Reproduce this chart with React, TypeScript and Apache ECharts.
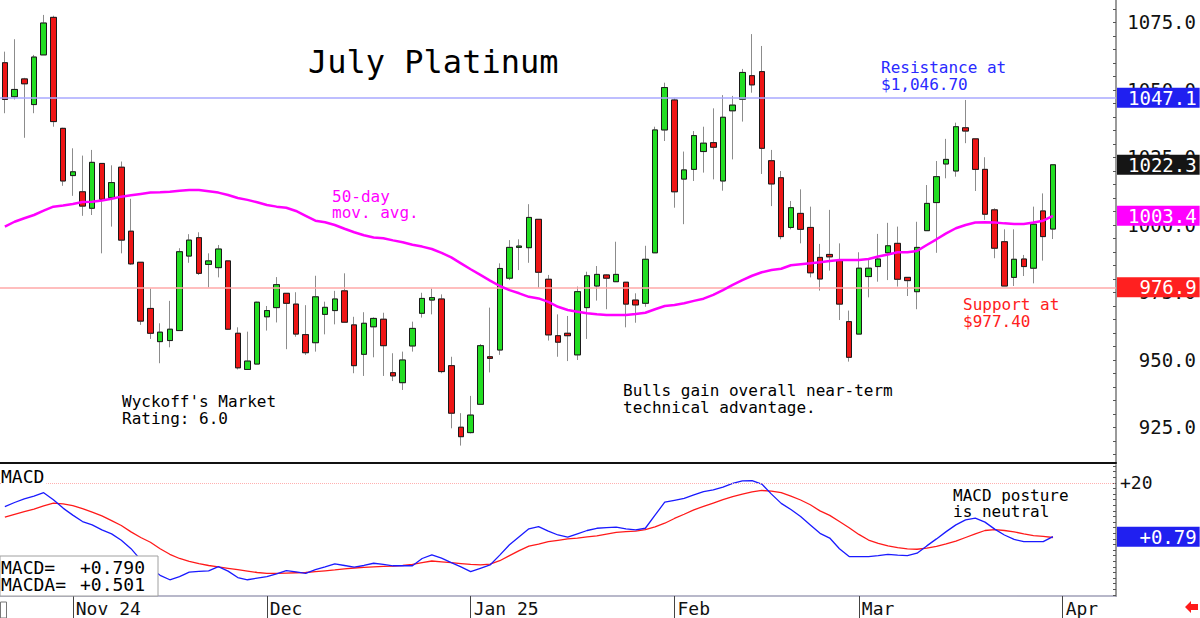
import React, { useEffect, useRef } from 'react';
import * as echarts from 'echarts';

// ---- Data (daily candles, late Oct 2024 -> end Mar 2025) ----
const opens = [
  1060.1, 1047.5, 1054.1, 1044.6, 1063.0, 1076.9, 1035.8, 1018.3, 1012.3, 1006.2,
  1022.8, 1010.2, 1021.4, 997.7, 986.2, 969.1, 956.8, 957.2, 960.9, 988.5,
  995.3, 985.4, 984.2, 986.7, 959.9, 946.5, 948.5, 966.0, 969.4, 974.7,
  970.7, 959.4, 956.4, 966.9, 968.3, 975.6, 963.0, 952.1, 962.3, 965.1,
  945.3, 941.6, 955.2, 967.3, 972.2, 972.6, 947.9, 925.1, 923.1, 933.6,
  951.2, 953.7, 980.3, 991.7, 991.6, 1002.1, 979.9, 959.0, 959.9, 951.9,
  969.4, 977.4, 981.5, 979.0, 978.8, 972.2, 971.0, 989.7, 1035.2, 1046.3,
  1017.0, 1020.6, 1027.2, 1030.5, 1016.3, 1042.3, 1046.6, 1055.3, 1056.8, 1023.8,
  1017.5, 999.1, 1004.3, 999.1, 988.0, 989.1, 986.8, 964.2, 959.6, 980.9,
  984.6, 989.7, 993.2, 980.6, 975.3, 997.9, 1008.3, 1022.6, 1020.0, 1036.0,
  1031.9, 1020.6, 1005.6, 993.8, 980.6, 987.4, 984.0, 1005.2, 998.5,
];
const closes = [
  1046.5, 1050.2, 1052.3, 1062.2, 1074.8, 1038.3, 1016.3, 1019.7, 1007.0, 1023.2,
  1009.5, 1015.7, 994.4, 985.6, 964.4, 959.9, 960.3, 961.4, 990.1, 994.4,
  982.1, 986.7, 991.1, 961.4, 947.1, 949.6, 971.4, 968.3, 977.9, 971.0,
  959.6, 952.7, 973.4, 969.5, 972.6, 964.0, 947.9, 963.6, 965.4, 955.3,
  944.1, 950.0, 961.7, 972.8, 973.1, 945.7, 930.3, 921.6, 929.6, 955.3,
  950.6, 983.9, 991.7, 992.2, 1002.8, 982.5, 959.3, 956.6, 959.0, 975.3,
  981.2, 981.7, 980.3, 981.7, 970.7, 970.4, 987.3, 1035.2, 1050.9, 1012.3,
  1020.4, 1033.1, 1030.3, 1028.8, 1039.9, 1044.4, 1056.5, 1051.9, 1028.4, 1015.2,
  995.7, 1006.4, 998.4, 982.3, 980.0, 988.2, 970.7, 951.0, 984.0, 984.0,
  987.4, 992.3, 979.9, 979.4, 991.7, 1008.0, 1017.9, 1024.3, 1036.4, 1034.8,
  1020.6, 1004.0, 991.4, 977.4, 987.3, 984.6, 1000.3, 995.7, 1022.3,
];
const lows = [
  1041.4, 1046.5, 1032.3, 1041.4, 1063.0, 1036.4, 1014.5, 1010.8, 1003.4, 1003.7,
  989.5, 999.4, 989.5, 985.2, 963.0, 957.8, 948.8, 954.7, 960.9, 986.0,
  981.5, 976.9, 980.6, 961.1, 946.5, 946.5, 948.5, 960.9, 963.9, 954.0,
  958.6, 951.9, 953.1, 959.5, 963.2, 964.0, 945.1, 944.1, 951.0, 944.1,
  942.2, 938.9, 953.1, 965.7, 966.9, 945.1, 924.7, 918.3, 922.8, 933.6,
  945.4, 951.9, 979.6, 983.3, 986.0, 976.8, 957.2, 951.2, 949.6, 950.0,
  957.8, 972.0, 968.8, 979.0, 962.1, 963.8, 969.7, 989.7, 1031.1, 1006.4,
  1000.3, 1016.3, 1019.4, 1016.9, 1012.7, 1024.3, 1038.3, 1049.0, 1018.9, 1007.0,
  994.7, 998.4, 993.2, 980.6, 975.7, 983.1, 964.8, 949.4, 959.6, 973.2,
  979.0, 979.6, 977.2, 973.7, 968.8, 997.9, 989.7, 1017.3, 1017.9, 1030.3,
  1012.6, 1001.9, 987.7, 977.4, 977.4, 981.1, 978.4, 986.8, 994.8,
];
const highs = [
  1064.2, 1068.8, 1054.5, 1063.0, 1077.8, 1077.5, 1036.0, 1028.4, 1025.7, 1027.8,
  1022.8, 1022.1, 1023.5, 1009.7, 986.2, 976.5, 963.6, 971.9, 991.4, 996.6,
  997.3, 989.5, 992.6, 986.7, 962.1, 960.5, 971.6, 970.0, 980.7, 974.7,
  975.1, 970.3, 981.2, 971.6, 975.6, 982.1, 966.0, 967.7, 965.8, 967.5,
  952.5, 953.1, 964.2, 974.9, 976.5, 974.3, 951.2, 930.3, 936.7, 955.9,
  969.4, 985.8, 994.4, 994.7, 1007.7, 1002.1, 981.5, 966.9, 966.3, 977.2,
  982.7, 984.8, 981.7, 993.8, 978.8, 974.7, 992.3, 1036.4, 1052.7, 1046.9,
  1027.2, 1034.8, 1036.4, 1043.2, 1048.1, 1047.8, 1057.8, 1070.7, 1066.3, 1027.8,
  1020.0, 1008.9, 1013.2, 1006.8, 993.0, 1005.6, 993.2, 968.3, 989.9, 987.0,
  996.7, 1000.8, 999.4, 980.6, 1001.2, 1014.8, 1023.7, 1031.9, 1037.9, 1046.3,
  1031.9, 1025.1, 1006.2, 998.4, 998.4, 988.9, 1006.8, 1011.7, 1022.3,
];
const ma50 = [
  999.4, 1001.2, 1002.5, 1003.7, 1005.3, 1006.8, 1007.2, 1007.8, 1008.5, 1008.6,
  1009.1, 1009.7, 1010.5, 1011.0, 1011.5, 1012.0, 1012.1, 1012.3, 1012.7, 1013.0,
  1013.0, 1012.5, 1012.0, 1011.1, 1010.0, 1009.3, 1008.4, 1007.4, 1006.8, 1006.4,
  1005.2, 1003.4, 1001.6, 1001.0, 1000.0, 998.6, 997.3, 996.2, 995.4, 995.1,
  994.3, 993.6, 992.7, 992.0, 991.1, 989.7, 988.0, 985.8, 983.6, 981.5,
  979.4, 977.4, 975.9, 974.7, 973.4, 972.8, 971.5, 969.7, 968.5, 967.9,
  967.3, 966.9, 966.7, 966.7, 966.7, 967.0, 967.5, 968.8, 970.0, 970.4,
  971.0, 971.9, 972.7, 974.1, 975.9, 977.8, 979.6, 981.2, 982.5, 983.3,
  983.8, 985.1, 985.5, 985.8, 986.2, 986.7, 987.0, 987.0, 987.0, 987.4,
  988.3, 989.1, 989.9, 989.9, 990.4, 992.6, 994.7, 996.9, 998.8, 1000.0,
  1000.9, 1001.0, 1000.9, 1000.6, 1000.4, 1000.4, 1000.9, 1001.6, 1003.4,
];
const macd = [
  11.5, 13.0, 14.3, 15.3, 16.5, 14.0, 11.0, 8.5, 6.2, 5.0,
  3.2, 1.8, -0.5, -3.5, -7.5, -10.5, -13.0, -14.6, -13.5, -11.9,
  -11.6, -11.4, -9.9, -11.5, -13.8, -14.6, -14.0, -13.5, -12.5, -11.3,
  -11.8, -12.3, -11.0, -10.0, -8.9, -9.5, -10.1, -9.5, -8.7, -9.1,
  -9.6, -9.6, -9.6, -7.0, -5.7, -6.9, -8.5, -10.0, -11.7, -10.5,
  -9.3, -5.8, -2.1, 0.8, 3.6, 4.4, 2.8, 1.4, 0.6, 1.8,
  3.0, 3.8, 4.0, 4.2, 3.6, 3.2, 3.8, 8.5, 13.1, 13.8,
  14.5, 15.7, 16.9, 17.5, 18.5, 19.8, 20.7, 20.8, 19.6, 16.0,
  12.7, 10.5, 8.0, 5.0, 2.0, 0.3, -3.5, -6.3, -6.3, -6.3,
  -6.0, -5.5, -5.8, -6.0, -5.1, -2.5, 0.0, 2.6, 5.0, 6.8,
  7.4, 6.0, 3.5, 1.4, -0.2, -1.0, -1.0, -1.0, 0.79,
];
const macdSignal = [
  7.8, 8.8, 9.7, 10.6, 11.8, 12.8, 12.5, 11.9, 10.8, 9.6,
  8.2, 6.5, 4.8, 2.5, 0.5, -1.2, -3.5, -5.5, -7.0, -8.0,
  -8.8, -9.5, -10.0, -10.5, -11.0, -11.5, -12.0, -12.3, -12.3, -12.2,
  -12.1, -12.0, -11.7, -11.4, -11.1, -10.7, -10.4, -10.2, -10.0, -9.8,
  -9.7, -9.5, -9.1, -8.5, -7.9, -8.2, -8.5, -8.8, -9.1, -9.3,
  -9.0, -7.8, -6.0, -4.2, -2.6, -1.9, -1.0, -0.5, 0.0, 0.3,
  0.7, 1.1, 1.7, 2.3, 2.6, 2.8, 3.3, 4.3, 5.6, 7.3,
  8.8, 10.4, 11.6, 12.8, 14.0, 15.1, 16.0, 16.8, 17.3, 17.1,
  16.5, 15.3, 13.9, 12.2, 10.0, 8.4, 6.2, 4.0, 1.6, -0.4,
  -1.6, -2.5, -3.1, -3.6, -3.7, -3.3, -2.7, -1.8, -0.8, 0.5,
  1.8, 3.0, 3.3, 3.0, 2.5, 1.8, 1.2, 0.9, 0.501,
];

const monthTickIndex = [7, 27, 48, 69, 88, 109];
const monthTickLabel = ['Nov 24', 'Dec', 'Jan 25', 'Feb', 'Mar', 'Apr'];
const priceTickLabels = [925, 950, 975, 1000, 1025, 1050, 1075];
const macdTickLabels = [20];
const resistanceLevel = 1047.1;
const supportLevel = 976.9;
const lastClose = 1022.3;
const lastMA = 1003.4;
const lastMACD = 0.79;
const macdRefLevel = 20;
const CATEGORY_COUNT = 115;

const MONO = '"DejaVu Sans Mono", monospace';

function boxLabel(text: string, bg: string) {
  const padded = text.length < 6 ? ' '.repeat(6 - text.length) + text : text;
  return {
    show: true,
    position: 'end',
    distance: 1,
    formatter: () => padded,
    color: '#ffffff',
    backgroundColor: bg,
    fontFamily: MONO,
    fontSize: 19,
    lineHeight: 20,
    padding: [0, 3, 0, 11],
  };
}

export default function App() {
  const ref = useRef<HTMLDivElement>(null);

  useEffect(() => {
    if (!ref.current) return;
    const chart = echarts.init(ref.current, undefined, { renderer: 'svg' });

    const categories = Array.from({ length: CATEGORY_COUNT }, (_, i) => String(i));
    const fullCandles = opens.map((o, i) => [o, closes[i], lows[i], highs[i]]);
    const bodyCandles = opens.map((o, i) => [o, closes[i], Math.min(o, closes[i]), Math.max(o, closes[i])]);

    const priceMinor: number[] = [];
    for (let v = 915; v <= 1080; v += 5) priceMinor.push(v);
    const macdMinor: number[] = [];
    for (let v = -20; v <= 26; v += 2) macdMinor.push(v);

    const isMonth = (idx: number) => monthTickIndex.indexOf(idx) >= 0;

    const transparentLine = { color: 'rgba(0,0,0,0)', width: 1 };

    const option: any = {
      animation: false,
      backgroundColor: '#ffffff',
      textStyle: { fontFamily: MONO },
      grid: [
        { left: 0, right: 84, top: 0, height: 463 },
        { left: 0, right: 84, top: 465, height: 131 },
      ],
      xAxis: [
        {
          gridIndex: 0,
          type: 'category',
          data: categories,
          boundaryGap: true,
          axisLine: { show: true, onZero: false, lineStyle: { color: '#111', width: 2 } },
          axisTick: { show: false },
          axisLabel: { show: false },
          splitLine: { show: false },
        },
        {
          gridIndex: 1,
          type: 'category',
          data: categories,
          boundaryGap: true,
          position: 'bottom',
          axisLine: { show: true, onZero: false, lineStyle: { color: '#a0a0b8', width: 1.5 } },
          axisTick: {
            show: true,
            alignWithLabel: true,
            interval: (idx: number) => isMonth(idx),
            length: 22,
            lineStyle: { color: '#444', width: 1 },
          },
          axisLabel: {
            show: true,
            interval: (idx: number) => isMonth(idx),
            formatter: (val: string) => {
              const k = monthTickIndex.indexOf(Number(val));
              return k >= 0 ? monthTickLabel[k] : '';
            },
            align: 'left',
            margin: 3,
            padding: [0, 0, 0, 3],
            color: '#111',
            fontFamily: MONO,
            fontSize: 18,
          },
          splitLine: { show: false },
        },
      ],
      yAxis: [
        {
          gridIndex: 0,
          type: 'value',
          position: 'right',
          min: 911.85,
          max: 1083.33,
          axisLine: { show: true, lineStyle: { color: '#9a9a9a', width: 2 } },
          axisTick: { show: true, inside: true, length: 3, customValues: priceMinor, lineStyle: { color: '#555' } },
          axisLabel: {
            show: true,
            customValues: priceTickLabels,
            formatter: (v: number) => v.toFixed(1),
            align: 'right',
            margin: 80,
            color: '#111',
            fontFamily: MONO,
            fontSize: 19,
          },
          splitLine: { show: false },
        },
        {
          gridIndex: 1,
          type: 'value',
          position: 'right',
          min: -20.4,
          max: 26.4,
          axisLine: { show: true, lineStyle: { color: '#9a9a9a', width: 2 } },
          axisTick: { show: true, inside: true, length: 3, customValues: macdMinor, lineStyle: { color: '#555' } },
          axisLabel: {
            show: true,
            customValues: macdTickLabels,
            formatter: (v: number) => (v > 0 ? '+' : '') + v,
            align: 'left',
            margin: 4,
            color: '#111',
            fontFamily: MONO,
            fontSize: 18,
          },
          splitLine: { show: false },
        },
      ],
      series: [
        {
          name: 'wicks',
          type: 'candlestick',
          xAxisIndex: 0,
          yAxisIndex: 0,
          barWidth: 6,
          data: fullCandles,
          itemStyle: {
            color: '#22dd22',
            color0: '#ee1515',
            borderColor: '#8c8c8c',
            borderColor0: '#8c8c8c',
            borderWidth: 1,
          },
          markLine: {
            symbol: ['none', 'none'],
            silent: true,
            animation: false,
            data: [
              { yAxis: resistanceLevel, lineStyle: { color: '#a8a8ff', width: 1.5, type: 'solid' }, label: boxLabel(resistanceLevel.toFixed(1), '#2020f0') },
              { yAxis: supportLevel, lineStyle: { color: '#ffa8a8', width: 1.5, type: 'solid' }, label: boxLabel(supportLevel.toFixed(1), '#ff2020') },
              { yAxis: lastClose, lineStyle: transparentLine, label: boxLabel(lastClose.toFixed(1), '#151515') },
              { yAxis: lastMA, lineStyle: transparentLine, label: boxLabel(lastMA.toFixed(1), '#ff00ff') },
            ],
          },
        },
        {
          name: 'bodies',
          type: 'candlestick',
          xAxisIndex: 0,
          yAxisIndex: 0,
          barWidth: 6,
          data: bodyCandles,
          itemStyle: {
            color: '#22dd22',
            color0: '#ee1515',
            borderColor: '#1a1a1a',
            borderColor0: '#1a1a1a',
            borderWidth: 1,
          },
        },
        {
          name: '50-day MA',
          type: 'line',
          xAxisIndex: 0,
          yAxisIndex: 0,
          data: ma50,
          symbol: 'none',
          lineStyle: { color: '#ff00ff', width: 2.5 },
          z: 5,
        },
        {
          name: 'MACDA',
          type: 'line',
          xAxisIndex: 1,
          yAxisIndex: 1,
          data: macdSignal,
          symbol: 'none',
          lineStyle: { color: '#ff1a1a', width: 1.3 },
        },
        {
          name: 'MACD',
          type: 'line',
          xAxisIndex: 1,
          yAxisIndex: 1,
          data: macd,
          symbol: 'none',
          lineStyle: { color: '#1a1aff', width: 1.3 },
          markLine: {
            symbol: ['none', 'none'],
            silent: true,
            animation: false,
            data: [
              { yAxis: macdRefLevel, lineStyle: { color: '#ffb0b0', width: 1, type: 'dotted' }, label: { show: false } },
              { yAxis: lastMACD, lineStyle: transparentLine, label: boxLabel('+' + lastMACD.toFixed(2), '#2020f0') },
            ],
          },
        },
      ],
      graphic: [
        { type: 'text', x: 308, y: 62, z: 50, style: { text: 'July Platinum', font: `32px ${MONO}`, fill: '#000', verticalAlign: 'middle' } },
        { type: 'text', x: 332, y: 196, z: 50, style: { text: '50-day', font: `16px ${MONO}`, fill: '#ff00ff', verticalAlign: 'middle' } },
        { type: 'text', x: 332, y: 212.5, z: 50, style: { text: 'mov. avg.', font: `16px ${MONO}`, fill: '#ff00ff', verticalAlign: 'middle' } },
        { type: 'text', x: 881, y: 67.5, z: 50, style: { text: 'Resistance at', font: `16px ${MONO}`, fill: '#2a2aff', verticalAlign: 'middle' } },
        { type: 'text', x: 881, y: 84, z: 50, style: { text: '$1,046.70', font: `16px ${MONO}`, fill: '#2a2aff', verticalAlign: 'middle' } },
        { type: 'text', x: 963, y: 304, z: 50, style: { text: 'Support at', font: `16px ${MONO}`, fill: '#ff2020', verticalAlign: 'middle' } },
        { type: 'text', x: 963, y: 321, z: 50, style: { text: '$977.40', font: `16px ${MONO}`, fill: '#ff2020', verticalAlign: 'middle' } },
        { type: 'text', x: 122, y: 401, z: 50, style: { text: "Wyckoff's Market", font: `16px ${MONO}`, fill: '#000', verticalAlign: 'middle' } },
        { type: 'text', x: 122, y: 418, z: 50, style: { text: 'Rating: 6.0', font: `16px ${MONO}`, fill: '#000', verticalAlign: 'middle' } },
        { type: 'text', x: 623, y: 390, z: 50, style: { text: 'Bulls gain overall near-term', font: `16px ${MONO}`, fill: '#000', verticalAlign: 'middle' } },
        { type: 'text', x: 623, y: 407, z: 50, style: { text: 'technical advantage.', font: `16px ${MONO}`, fill: '#000', verticalAlign: 'middle' } },
        { type: 'text', x: 953, y: 495, z: 50, style: { text: 'MACD posture', font: `16px ${MONO}`, fill: '#000', verticalAlign: 'middle' } },
        { type: 'text', x: 953, y: 511.5, z: 50, style: { text: 'is neutral', font: `16px ${MONO}`, fill: '#000', verticalAlign: 'middle' } },
        { type: 'text', x: 1, y: 476, z: 50, style: { text: 'MACD', font: `18px ${MONO}`, fill: '#000', verticalAlign: 'middle', backgroundColor: '#fff', padding: [0, 2, 0, 0] } },
        { type: 'rect', z: 60, shape: { x: 0, y: 556, width: 158, height: 40 }, style: { fill: '#ffffff', stroke: '#a0a0a0', lineWidth: 1 } },
        { type: 'text', x: 1, y: 567, z: 61, style: { text: 'MACD=', font: `18px ${MONO}`, fill: '#000', verticalAlign: 'middle' } },
        { type: 'text', x: 80, y: 567, z: 61, style: { text: '+0.790', font: `18px ${MONO}`, fill: '#000', verticalAlign: 'middle' } },
        { type: 'text', x: 1, y: 584, z: 61, style: { text: 'MACDA=', font: `18px ${MONO}`, fill: '#000', verticalAlign: 'middle' } },
        { type: 'text', x: 80, y: 584, z: 61, style: { text: '+0.501', font: `18px ${MONO}`, fill: '#000', verticalAlign: 'middle' } },
        { type: 'rect', z: 50, shape: { x: 0.5, y: 602, width: 6, height: 16 }, style: { fill: 'none', stroke: '#777', lineWidth: 1 } },
        {
          type: 'polygon',
          z: 50,
          shape: { points: [[1185, 607], [1191, 601], [1191, 604], [1198, 604], [1198, 610], [1191, 610], [1191, 613]] },
          style: { fill: '#ff1a1a' },
        },
      ],
    };

    chart.setOption(option);
    return () => chart.dispose();
  }, []);

  return (
    <div
      ref={ref}
      style={{ position: 'absolute', left: 0, top: 0, width: 1200, height: 618, background: '#fff' }}
    />
  );
}
